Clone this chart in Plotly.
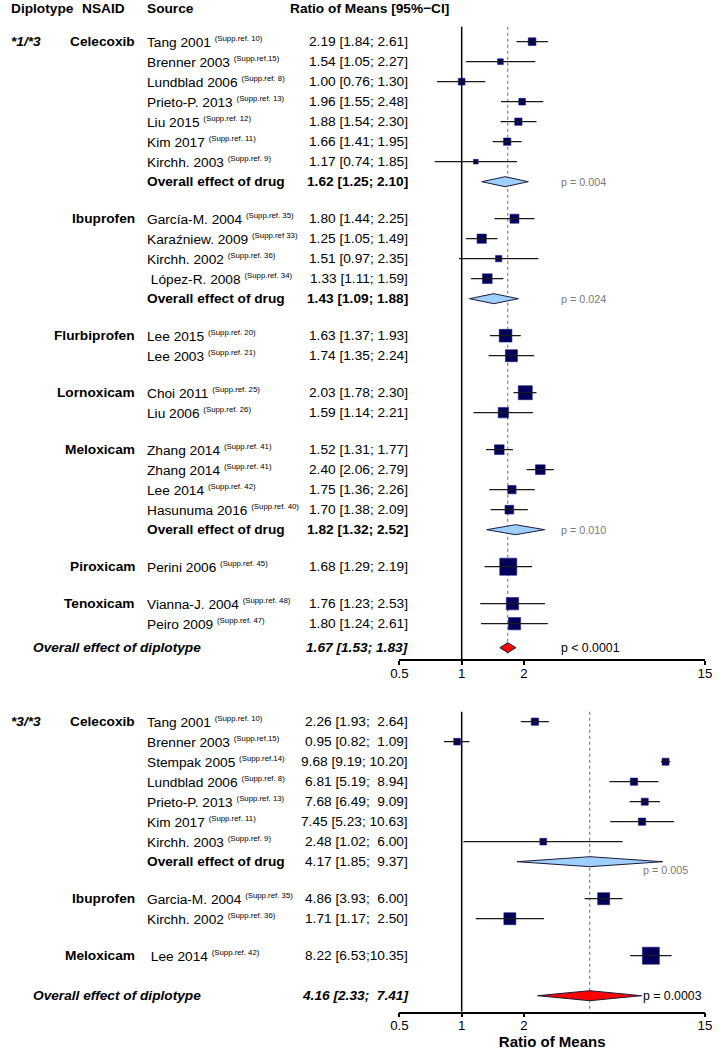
import plotly.graph_objects as go
import math

# ------------------------------------------------------------------ data
# ---- diplotype *1/*3 ----
u_drugs = ["Celecoxib", "Ibuprofen", "Flurbiprofen", "Lornoxicam", "Meloxicam", "Piroxicam", "Tenoxicam"]
u_drug = (["Celecoxib"] * 7 + ["Ibuprofen"] * 4 + ["Flurbiprofen"] * 2 + ["Lornoxicam"] * 2
          + ["Meloxicam"] * 4 + ["Piroxicam"] + ["Tenoxicam"] * 2)
u_study = ["Tang 2001", "Brenner 2003", "Lundblad 2006", "Prieto-P. 2013", "Liu 2015", "Kim 2017", "Kirchh. 2003",
           "García-M. 2004", "Karaźniew. 2009", "Kirchh. 2002", "\u00a0López-R. 2008",
           "Lee 2015", "Lee 2003", "Choi 2011", "Liu 2006",
           "Zhang 2014", "Zhang 2014", "Lee 2014", "Hasunuma 2016",
           "Perini 2006", "Vianna-J. 2004", "Peiro 2009"]
u_ref = ["Supp.ref. 10", "Supp.ref.15", "Supp.ref. 8", "Supp.ref. 13", "Supp.ref. 12", "Supp.ref. 11", "Supp.ref. 9",
         "Supp.ref. 35", "Supp.ref 33", "Supp.ref. 36", "Supp.ref. 34",
         "Supp.ref. 20", "Supp.ref. 21", "Supp.ref. 25", "Supp.ref. 26",
         "Supp.ref. 41", "Supp.ref. 41", "Supp.ref. 42", "Supp.ref. 40",
         "Supp.ref. 45", "Supp.ref. 48", "Supp.ref. 47"]
u_est = [2.19, 1.54, 1.00, 1.96, 1.88, 1.66, 1.17, 1.80, 1.25, 1.51, 1.33, 1.63, 1.74, 2.03, 1.59,
         1.52, 2.40, 1.75, 1.70, 1.68, 1.76, 1.80]
u_lo = [1.84, 1.05, 0.76, 1.55, 1.54, 1.41, 0.74, 1.44, 1.05, 0.97, 1.11, 1.37, 1.35, 1.78, 1.14,
        1.31, 2.06, 1.36, 1.38, 1.29, 1.23, 1.24]
u_hi = [2.61, 2.27, 1.30, 2.48, 2.30, 1.95, 1.85, 2.25, 1.49, 2.35, 1.59, 1.93, 2.24, 2.30, 2.21,
        1.77, 2.79, 2.26, 2.09, 2.19, 2.53, 2.61]
u_weight = [7.7, 5.7, 6.7, 6.7, 7.3, 7.3, 4.7, 9.0, 9.3, 6.3, 9.7, 12.7, 12.0, 14.0, 10.3,
            9.7, 9.7, 8.3, 8.7, 17.0, 12.3, 12.3]
u_pool_drug = ["Celecoxib", "Ibuprofen", "Meloxicam"]
u_pool_est = [1.62, 1.43, 1.82]
u_pool_lo = [1.25, 1.09, 1.32]
u_pool_hi = [2.10, 1.88, 2.52]
u_pool_p = ["p = 0.004", "p = 0.024", "p = 0.010"]
u_all = [1.67, 1.53, 1.83]
u_all_p = "p < 0.0001"

# ---- diplotype *3/*3 ----
l_drugs = ["Celecoxib", "Ibuprofen", "Meloxicam"]
l_drug = ["Celecoxib"] * 7 + ["Ibuprofen"] * 2 + ["Meloxicam"]
l_study = ["Tang 2001", "Brenner 2003", "Stempak 2005", "Lundblad 2006", "Prieto-P. 2013", "Kim 2017",
           "Kirchh. 2003", "Garcia-M. 2004", "Kirchh. 2002", "\u00a0Lee 2014"]
l_ref = ["Supp.ref. 10", "Supp.ref.15", "Supp.ref.14", "Supp.ref. 8", "Supp.ref. 13", "Supp.ref. 11",
         "Supp.ref. 9", "Supp.ref. 35", "Supp.ref. 36", "Supp.ref. 42"]
l_est = [2.26, 0.95, 9.68, 6.81, 7.68, 7.45, 2.48, 4.86, 1.71, 8.22]
l_lo = [1.93, 0.82, 9.19, 5.19, 6.49, 5.23, 1.02, 3.93, 1.17, 6.53]
l_hi = [2.64, 1.09, 10.20, 8.94, 9.09, 10.63, 6.00, 6.00, 2.50, 10.35]
l_weight = [7.3, 6.7, 7.0, 7.3, 7.0, 7.3, 6.7, 12.0, 12.0, 17.0]
l_ci_text = ["2.26 [1.93;  2.64]", "0.95 [0.82;  1.09]", "9.68 [9.19; 10.20]", "6.81 [5.19;  8.94]",
             "7.68 [6.49;  9.09]", "7.45 [5.23; 10.63]", "2.48 [1.02;  6.00]", "4.86 [3.93;  6.00]",
             "1.71 [1.17;  2.50]", "8.22 [6.53;10.35]"]
l_pool_drug = ["Celecoxib"]
l_pool_est = [4.17]
l_pool_lo = [1.85]
l_pool_hi = [9.37]
l_pool_p = ["p = 0.005"]
l_pool_text = ["4.17 [1.85;  9.37]"]
l_all = [4.16, 2.33, 7.41]
l_all_p = "p = 0.0003"
l_all_text = "4.16 [2.33;  7.41]"

tick_vals = [0.5, 1, 2, 15]
tick_text = ["0.5", "1", "2", "15"]

# ------------------------------------------------------------------ style / layout
W, H = 720, 1050
FONT = "Liberation Sans, Arial, Helvetica, sans-serif"
FS = 13.7
X_SRC, X_DRUG_R, X_CI_R, X_DIPLO = 141, 129, 408, 2
X0_PX, X1_PX = 399.3, 711.7
PITCH, GAP = 20, 37
SQ_FILL, SQ_LINE = "#00005a", "#1c1c80"
BLUE_D, RED_D = "#9fcfff", "#ff0000"


def nb(s):
    return s.replace(" ", "\u00a0")


fig = go.Figure()
ann = []


def txt(xpx, y, yref, text, anchor="left", size=FS, color="black"):
    ann.append(dict(x=xpx / W, xref="paper", y=y, yref=yref, text=text, showarrow=False,
                    xanchor=anchor, yanchor="middle", borderpad=0, borderwidth=0,
                    font=dict(family=FONT, size=size, color=color)))


def panel(xa, ya, yref, top, label, drugs, drug, study, ref, est, lo, hi, weight, cit,
          pdrug, pest, plo, phi, pp, ptxt, pbold, allv, allp, alltxt, final_gap,
          line_top, axis_y, p_x, p_dy):
    ys = []
    pool_y = {}
    y = top
    first = True
    for d in drugs:
        if not first:
            y += GAP
        idx = [i for i, dd in enumerate(drug) if dd == d]
        for k, i in enumerate(idx):
            if k > 0:
                y += PITCH
            ys.append((i, y))
            if k == 0:
                txt(X_DRUG_R, y, yref, f"<b>{d}</b>", anchor="right")
        if d in pdrug:
            y += PITCH
            pool_y[d] = y
        first = False
    y_all = y + final_gap
    ys.sort()
    yv = [v for _, v in ys]

    txt(X_DIPLO, top, yref, f"<b><i>{label}</i></b>")

    # reference lines
    fig.add_trace(go.Scatter(x=[1, 1], y=[line_top, axis_y], mode="lines", xaxis=xa, yaxis=ya,
                             line=dict(color="black", width=1.5), hoverinfo="skip", showlegend=False))
    fig.add_trace(go.Scatter(x=[allv[0], allv[0]], y=[line_top, axis_y - 3], mode="lines", xaxis=xa, yaxis=ya,
                             line=dict(color="#808080", width=1.2, dash="dot"), hoverinfo="skip",
                             showlegend=False))
    # squares
    fig.add_trace(go.Scatter(x=est, y=yv, mode="markers", xaxis=xa, yaxis=ya,
                             marker=dict(symbol="square", size=weight, color=SQ_FILL, opacity=1,
                                         line=dict(color=SQ_LINE, width=0.6)),
                             hoverinfo="skip", showlegend=False))
    # CI lines
    cx, cy = [], []
    for e, a, b, yy in zip(est, lo, hi, yv):
        cx += [a, b, None]
        cy += [yy, yy, None]
    fig.add_trace(go.Scatter(x=cx, y=cy, mode="lines", xaxis=xa, yaxis=ya,
                             line=dict(color="#1a1a1a", width=1.3), hoverinfo="skip", showlegend=False))

    # study texts
    for i, yy in zip(range(len(est)), yv):
        txt(X_SRC, yy, yref,
            f"{study[i]} <sup><span style='font-size:7.8px'>({ref[i]})</span></sup>")
        t = cit[i] if cit else f"{est[i]:.2f} [{lo[i]:.2f}; {hi[i]:.2f}]"
        txt(X_CI_R, yy, yref, nb(t), anchor="right")

    # pooled diamonds per drug
    def diamond(c, a, b, yy, color, h=5):
        fig.add_trace(go.Scatter(x=[a, c, b, c, a], y=[yy, yy - h, yy, yy + h, yy], mode="lines",
                                 fill="toself", fillcolor=color, xaxis=xa, yaxis=ya,
                                 line=dict(color="#1a1a3a", width=1), hoverinfo="skip", showlegend=False))

    for j, d in enumerate(pdrug):
        yy = pool_y[d]
        diamond(pest[j], plo[j], phi[j], yy, BLUE_D)
        txt(X_SRC, yy, yref, "<b>Overall effect of drug</b>")
        t = ptxt[j] if ptxt else f"{pest[j]:.2f} [{plo[j]:.2f}; {phi[j]:.2f}]"
        txt(X_CI_R, yy, yref, f"<b>{nb(t)}</b>" if pbold else nb(t), anchor="right")
        txt(p_x, yy + p_dy, yref, pp[j], size=10.8, color="#7a7a7a")

    diamond(allv[0], allv[1], allv[2], y_all, RED_D)
    txt(25, y_all, yref, "<b><i>Overall effect of diplotype</i></b>")
    t = alltxt if alltxt else f"{allv[0]:.2f} [{allv[1]:.2f}; {allv[2]:.2f}]"
    txt(X_CI_R, y_all, yref, f"<b><i>{nb(t)}</i></b>", anchor="right")
    return y_all


# header
UP_AXIS, LO_AXIS = 659, 1011.7
txt(2, 8, "y", "<b>Diplotype</b>")
txt(75, 8, "y", "<b>NSAID</b>")
txt(X_SRC, 8, "y", "<b>Source</b>")
txt(287, 8, "y", "<b>Ratio of Means [95%−CI]</b>")

ya_all = panel("x", "y", "y", 41.7, "*1/*3", u_drugs, u_drug, u_study, u_ref, u_est, u_lo, u_hi, u_weight, None,
               u_pool_drug, u_pool_est, u_pool_lo, u_pool_hi, u_pool_p, None, True,
               u_all, u_all_p, None, 24, 26.7, UP_AXIS, 565, 0)
txt(565, ya_all, "y", u_all_p, size=12.3)

yl_all = panel("x2", "y2", "y2", 721.7, "*3/*3", l_drugs, l_drug, l_study, l_ref, l_est, l_lo, l_hi, l_weight,
               l_ci_text, l_pool_drug, l_pool_est, l_pool_lo, l_pool_hi, l_pool_p, l_pool_text, False,
               l_all, l_all_p, l_all_text, 40, 711.7, LO_AXIS, 648, 8.5)
txt(648, yl_all, "y2", l_all_p, size=12.3)

xdom = [X0_PX / W, X1_PX / W]
xax = dict(type="log", range=[math.log10(0.5), math.log10(15)], domain=xdom, tickvals=tick_vals,
           ticktext=tick_text, ticks="outside", ticklen=4, tickwidth=1.5, tickcolor="black",
           ticklabelstandoff=-3,
           showline=True, linecolor="black", linewidth=1.5, showgrid=False, zeroline=False,
           tickfont=dict(family=FONT, size=13.3, color="black"), fixedrange=True)

fig.update_layout(
    width=W, height=H, margin=dict(l=0, r=0, t=0, b=0),
    paper_bgcolor="white", plot_bgcolor="white", showlegend=False,
    xaxis=dict(xax, anchor="y"),
    xaxis2=dict(xax, anchor="y2",
                title=dict(text="<b>Ratio of Means</b>", font=dict(family=FONT, size=15, color="black"),
                           standoff=2)),
    yaxis=dict(domain=[1 - UP_AXIS / H, 1], range=[UP_AXIS, 0], visible=False, fixedrange=True),
    yaxis2=dict(domain=[1 - LO_AXIS / H, 1 - 690 / H], range=[LO_AXIS, 690], visible=False, fixedrange=True),
    annotations=ann,
)

fig.write_html("out.html", config={"displayModeBar": False},
               post_script="document.body.style.margin='0px';document.body.style.overflow='hidden';")
